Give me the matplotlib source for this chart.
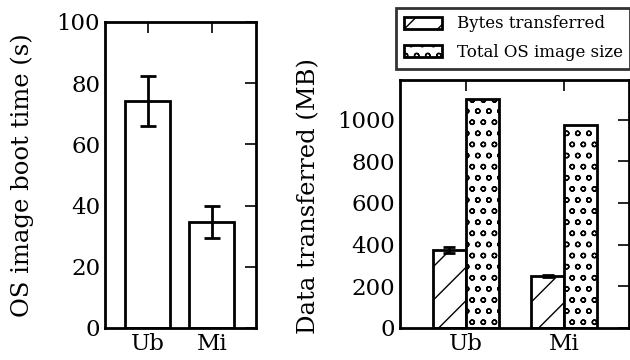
import matplotlib
matplotlib.use("Agg")
import matplotlib.pyplot as plt
import numpy as np

DPI = 200
S = 100 / DPI  # point sizes below are tuned for a 100-dpi look

plt.rcParams['font.family'] = ['DejaVu Serif']
plt.rcParams['hatch.linewidth'] = 1.0 * S

categories = ["Ub", "Mi"]
boot_time = [74.1, 34.6]
boot_err = [8.2, 5.2]
bytes_transferred = [375, 250]
bytes_err = [13, 3]
total_size = [1099, 972]
legend_labels = ["Bytes transferred", "Total OS image size"]

fig = plt.figure(figsize=(630 / DPI, 360 / DPI), dpi=DPI)
ax1 = fig.add_axes([105/630, 1-328/360, 151/630, 306/360])
ax2 = fig.add_axes([400/630, 1-328/360, 229/630, 248/360])

LW = 2 * S
x = np.arange(len(categories))
ax1.bar(x, boot_time, 0.7, color='white', edgecolor='black', linewidth=LW,
        yerr=boot_err, capsize=6 * S,
        error_kw=dict(elinewidth=LW, capthick=LW, ecolor='black'))
ax1.set_xlim(-0.67, 1.69)
ax1.set_ylim(0, 100)
ax1.set_xticks(x)
ax1.set_xticklabels(categories)
ax1.set_yticks([0, 20, 40, 60, 80, 100])
ax1.set_ylabel("OS image boot time (s)", fontsize=17.5 * S)
ax1.yaxis.set_label_coords(-0.47, 0.5)

w = 1/3
b1 = ax2.bar(x - w/2, bytes_transferred, w, color='white', edgecolor='black', linewidth=LW,
             hatch='//', yerr=bytes_err, capsize=4 * S,
             error_kw=dict(elinewidth=LW, capthick=LW, ecolor='black'), label=legend_labels[0])
b2 = ax2.bar(x + w/2, total_size, w, color='white', edgecolor='black', linewidth=LW,
             hatch='ooo', label=legend_labels[1])
ax2.set_xlim(-0.67, 1.66)
ax2.set_ylim(0, 1190)
ax2.set_xticks(x)
ax2.set_xticklabels(categories)
ax2.set_yticks([0, 200, 400, 600, 800, 1000])
ax2.set_ylabel("Data transferred (MB)", fontsize=17.5 * S)
ax2.yaxis.set_label_coords(-0.35, 0.53)

for ax in (ax1, ax2):
    for s in ax.spines.values():
        s.set_linewidth(LW)
    ax.tick_params(axis='both', which='both', direction='in', length=8 * S, width=1.2 * S,
                   top=True, right=True, left=False, bottom=False, labelsize=16.5 * S,
                   pad=3.5 * S)

leg = fig.legend(handles=[b1, b2], labels=legend_labels, loc='upper left',
                 bbox_to_anchor=(396/630, 1-8/360), fontsize=12 * S, frameon=True,
                 fancybox=False, edgecolor='black', borderpad=0.45, labelspacing=0.7,
                 handlelength=2.3, handleheight=0.75, handletextpad=0.9, borderaxespad=0)
leg.get_frame().set_linewidth(LW)

fig.savefig("out.png", dpi=DPI)
